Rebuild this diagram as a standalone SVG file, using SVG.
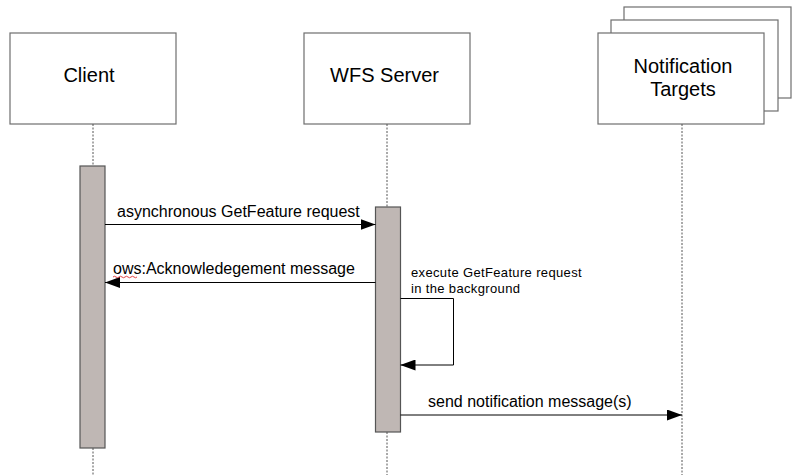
<svg xmlns="http://www.w3.org/2000/svg" width="800" height="475" viewBox="0 0 800 475">
<defs>
<style>
.box{fill:#fff;stroke:#6e6e6e;stroke-width:1.2}
.act{fill:#bfb7b4;stroke:#555;stroke-width:1.2}
.life{stroke:#555;stroke-width:1;stroke-dasharray:2,1.5;fill:none}
.msg{stroke:#000;stroke-width:1;fill:none}
.title{font-family:"Liberation Sans",Arial,sans-serif;font-size:20px;fill:#000;text-anchor:middle}
.lbl{font-family:"Liberation Sans",Arial,sans-serif;font-size:16px;fill:#000}
.sm{font-family:"Liberation Sans",Arial,sans-serif;font-size:13px;fill:#000;letter-spacing:0.35px}
</style>
<marker id="ah" markerWidth="15" markerHeight="11" refX="15" refY="5.5" orient="auto" markerUnits="userSpaceOnUse">
<path d="M0,0 L15,5.5 L0,11 Z" fill="#000"/>
</marker>
</defs>
<rect width="800" height="475" fill="#fff"/>
<g id="client">
<rect class="box" x="10" y="33" width="166" height="91"/>
<text class="title" x="89" y="82">Client</text>
<line class="life" x1="93" y1="124" x2="93" y2="166"/>
<line class="life" x1="93" y1="448" x2="93" y2="475"/>
<rect class="act" x="80" y="166" width="25" height="282"/>
</g>
<g id="wfs-server">
<rect class="box" x="304" y="33" width="166" height="91"/>
<text class="title" x="384.5" y="82">WFS Server</text>
<line class="life" x1="387" y1="124" x2="387" y2="207"/>
<line class="life" x1="387" y1="432" x2="387" y2="475"/>
<rect class="act" x="375.5" y="207" width="25" height="225"/>
</g>
<g id="notification-targets">
<rect class="box" x="624" y="7" width="167" height="91"/>
<rect class="box" x="611" y="20" width="167" height="91"/>
<rect class="box" x="598" y="33" width="166" height="91"/>
<text class="title" x="683" y="73">Notification</text>
<text class="title" x="683" y="96">Targets</text>
<line class="life" x1="682" y1="124" x2="682" y2="475"/>
</g>
<g id="connectors">
<line class="msg" x1="105" y1="224.5" x2="375.5" y2="224.5" marker-end="url(#ah)"/>
<text class="lbl" x="117" y="217">asynchronous GetFeature request</text>
<line class="msg" x1="375.5" y1="282.5" x2="105" y2="282.5" marker-end="url(#ah)"/>
<text class="lbl" x="113" y="274">ows:Acknowledegement message</text>
<path d="M113,277 q1.5,-1.5 3,0 t3,0 t3,0 t3,0 t3,0 t3,0 t3,0 t3,0" stroke="#e03030" stroke-width="0.9" fill="none"/>
<path class="msg" d="M400.5,298.5 H453.5 V365 H400.5" marker-end="url(#ah)"/>
<text class="sm" x="411" y="277">execute GetFeature request</text>
<text class="sm" x="411" y="293">in the background</text>
<line class="msg" x1="400.5" y1="415" x2="682" y2="415" marker-end="url(#ah)"/>
<text class="lbl" x="428" y="407">send notification message(s)</text>
</g>
</svg>
